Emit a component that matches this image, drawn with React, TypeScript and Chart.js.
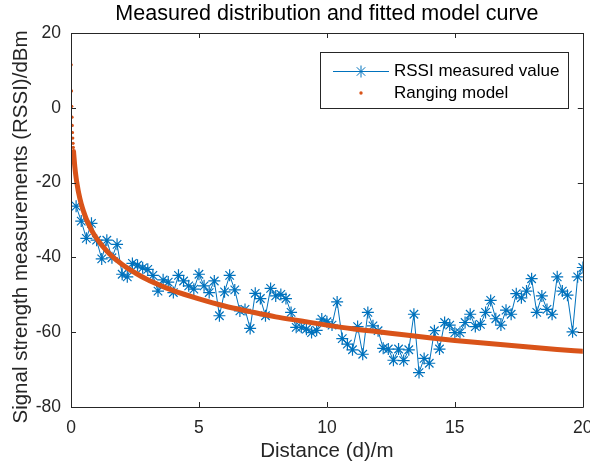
import React, { useEffect, useRef } from "react";
import { Chart, registerables } from "chart.js";

Chart.register(...registerables);

const BLUE = "#0072BD";
const ORANGE = "#D95319";
const AXIS = "#262626";
const FONT = "'Liberation Sans', Arial, sans-serif";

const titleText = "Measured distribution and fitted model curve";
const xLabel = "Distance (d)/m";
const yLabel = "Signal strength measurements (RSSI)/dBm";
const legendLabels = ["RSSI measured value", "Ranging model"];

const xTicks = [0, 5, 10, 15, 20];
const yTicks = [-80, -60, -40, -20, 0, 20];

const measuredDistances = [
  0.2, 0.4, 0.6, 0.8, 1.0, 1.2, 1.4, 1.6, 1.8, 2.0,
  2.2, 2.4, 2.6, 2.8, 3.0, 3.2, 3.4, 3.6, 3.8, 4.0,
  4.2, 4.4, 4.6, 4.8, 5.0, 5.2, 5.4, 5.6, 5.8, 6.0,
  6.2, 6.4, 6.6, 6.8, 7.0, 7.2, 7.4, 7.6, 7.8, 8.0,
  8.2, 8.4, 8.6, 8.8, 9.0, 9.2, 9.4, 9.6, 9.8, 10.0,
  10.2, 10.4, 10.6, 10.8, 11.0, 11.2, 11.4, 11.6, 11.8, 12.0,
  12.2, 12.4, 12.6, 12.8, 13.0, 13.2, 13.4, 13.6, 13.8, 14.0,
  14.2, 14.4, 14.6, 14.8, 15.0, 15.2, 15.4, 15.6, 15.8, 16.0,
  16.2, 16.4, 16.6, 16.8, 17.0, 17.2, 17.4, 17.6, 17.8, 18.0,
  18.2, 18.4, 18.6, 18.8, 19.0, 19.2, 19.4, 19.6, 19.8, 20.0,
];

const rssiMeasured = [
  -26.3, -30.3, -34.9, -30.9, -35.4, -40.4, -35.4, -40.1, -36.5, -44.5,
  -45.2, -41.6, -42.1, -42.8, -43.2, -44.8, -49.0, -46.0, -46.6, -49.4,
  -44.8, -46.3, -47.6, -48.5, -44.5, -47.6, -49.4, -46.3, -55.6, -49.2,
  -44.8, -48.7, -54.3, -53.9, -59.0, -49.6, -51.0, -55.6, -48.3, -50.3,
  -49.9, -51.0, -54.7, -58.7, -58.7, -59.2, -60.1, -59.5, -56.5, -57.2,
  -58.1, -51.9, -61.7, -63.2, -64.7, -58.5, -65.9, -54.7, -58.3, -59.6,
  -64.3, -64.5, -67.5, -64.5, -67.6, -64.7, -55.2, -70.8, -67.0, -68.3,
  -59.6, -64.5, -57.4, -58.1, -60.1, -60.1, -57.4, -55.2, -58.5, -57.9,
  -54.7, -51.5, -56.4, -58.1, -54.1, -55.2, -49.7, -50.8, -49.0, -45.7,
  -54.7, -50.3, -53.9, -55.2, -45.2, -49.0, -50.1, -59.9, -45.2, -42.7,
];

// Sparse dots at the steep start of the ranging model
const modelDotDistances = [0.01, 0.02, 0.03, 0.04, 0.05, 0.06, 0.07, 0.08, 0.09, 0.1];
const modelDotValues = [11.5, 4.5, 0.4, -2.5, -4.7, -6.6, -8.1, -9.5, -10.6, -11.7];

// Dense part of the ranging model (dots merge into a thick band)
const modelDistances = [
  0.1, 0.12, 0.15, 0.2, 0.25, 0.3, 0.4, 0.5, 0.6, 0.7, 0.8, 1.0, 1.2, 1.5,
  2.0, 2.5, 3.0, 3.5, 4.0, 5.0, 6.0, 7.0, 8.0, 9.0, 10, 11, 12, 13, 14, 15,
  16, 17, 18, 19, 20,
];
const modelValues = [
  -11.7, -13.5, -15.8, -18.7, -20.9, -22.8, -25.7, -27.9, -29.8, -31.3, -32.7, -34.9, -36.7, -39.0,
  -41.9, -44.1, -46.0, -47.5, -48.9, -51.1, -53.0, -54.5, -55.9, -57.0, -58.1, -59.1, -59.9, -60.7, -61.5, -62.2,
  -62.8, -63.4, -64.0, -64.6, -65.1,
];

function drawStar(ctx: CanvasRenderingContext2D, x: number, y: number, r: number) {
  const d = r * Math.SQRT1_2;
  ctx.beginPath();
  ctx.moveTo(x - r, y);
  ctx.lineTo(x + r, y);
  ctx.moveTo(x, y - r);
  ctx.lineTo(x, y + r);
  ctx.moveTo(x - d, y - d);
  ctx.lineTo(x + d, y + d);
  ctx.moveTo(x - d, y + d);
  ctx.lineTo(x + d, y - d);
  ctx.stroke();
}

const framePlugin = {
  id: "matlabFrame",
  afterDatasetsDraw(chart: any) {
    const { ctx, chartArea, scales } = chart;
    const { left, right, top, bottom } = chartArea;
    const cx = (left + right) / 2;
    const cy = (top + bottom) / 2;
    const tl = 5;
    ctx.save();
    ctx.strokeStyle = AXIS;
    ctx.lineWidth = 1;
    ctx.beginPath();
    ctx.rect(Math.round(left) + 0.5, Math.round(top) + 0.5, Math.round(right - left), Math.round(bottom - top));
    ctx.stroke();
    ctx.beginPath();
    xTicks.forEach((v) => {
      const px = Math.round(scales.x.getPixelForValue(v)) + 0.5;
      ctx.moveTo(px, bottom);
      ctx.lineTo(px, bottom - tl);
      ctx.moveTo(px, top);
      ctx.lineTo(px, top + tl);
    });
    yTicks.forEach((v) => {
      const py = Math.round(scales.y.getPixelForValue(v)) + 0.5;
      ctx.moveTo(left, py);
      ctx.lineTo(left + tl, py);
      ctx.moveTo(right, py);
      ctx.lineTo(right - tl, py);
    });
    ctx.stroke();

    // Title and axis labels
    ctx.textAlign = "center";
    ctx.textBaseline = "middle";
    ctx.fillStyle = "#000000";
    ctx.font = `21.5px ${FONT}`;
    ctx.fillText(titleText, cx, 14);
    ctx.fillStyle = AXIS;
    ctx.font = `20.5px ${FONT}`;
    ctx.fillText(xLabel, cx, 451);
    ctx.save();
    ctx.translate(21, cy + 7);
    ctx.rotate(-Math.PI / 2);
    ctx.fillText(yLabel, 0, 0);
    ctx.restore();

    // Legend box inside the axes (upper right)
    const bx = 320.5, by = 52.5, bw = 248, bh = 56;
    ctx.fillStyle = "#ffffff";
    ctx.fillRect(bx, by, bw, bh);
    ctx.strokeStyle = AXIS;
    ctx.strokeRect(bx, by, bw, bh);
    const row1 = 71, row2 = 93;
    ctx.strokeStyle = BLUE;
    ctx.lineWidth = 1;
    ctx.beginPath();
    ctx.moveTo(333, row1 + 0.5);
    ctx.lineTo(389, row1 + 0.5);
    ctx.stroke();
    drawStar(ctx, 361, row1 + 0.5, 6);
    ctx.fillStyle = ORANGE;
    ctx.beginPath();
    ctx.arc(361, row2, 1.7, 0, Math.PI * 2);
    ctx.fill();
    ctx.fillStyle = "#000000";
    ctx.font = `17px ${FONT}`;
    ctx.textAlign = "left";
    ctx.textBaseline = "middle";
    ctx.fillText(legendLabels[0], 394, row1);
    ctx.fillText(legendLabels[1], 394, row2);
    ctx.restore();
  },
};

export default function App() {
  const ref = useRef<HTMLCanvasElement | null>(null);

  useEffect(() => {
    if (!ref.current) return;
    const chart = new Chart(ref.current, {
      type: "scatter",
      data: {
        datasets: [
          {
            label: legendLabels[1],
            data: modelDotDistances.map((d, i) => ({ x: d, y: modelDotValues[i] })),
            showLine: false,
            pointRadius: 1.6,
            pointBorderWidth: 0,
            pointBackgroundColor: ORANGE,
            pointBorderColor: ORANGE,
          },
          {
            label: legendLabels[1] + " band",
            data: modelDistances.map((d, i) => ({ x: d, y: modelValues[i] })),
            showLine: true,
            borderColor: ORANGE,
            borderWidth: 5,
            pointRadius: 0,
            cubicInterpolationMode: "monotone",
            borderCapStyle: "round",
          },
          {
            label: legendLabels[0],
            data: measuredDistances.map((d, i) => ({ x: d, y: rssiMeasured[i] })),
            showLine: true,
            borderColor: BLUE,
            borderWidth: 1,
            pointStyle: "star",
            pointRadius: 6,
            pointBorderWidth: 1.2,
            pointBorderColor: BLUE,
            pointBackgroundColor: BLUE,
            tension: 0,
          },
        ],
      } as any,
      options: {
        responsive: false,
        animation: false,
        layout: { padding: { left: 0, right: 7, top: 33, bottom: 0 } },
        plugins: {
          legend: { display: false },
          tooltip: { enabled: false },
          title: { display: false },
        },
        scales: {
          x: {
            type: "linear",
            min: 0,
            max: 20,
            afterBuildTicks: (s: any) => {
              s.ticks = xTicks.map((v) => ({ value: v }));
            },
            ticks: {
              color: AXIS,
              font: { family: FONT, size: 17.5 },
              padding: 11,
              maxRotation: 0,
            },
            grid: { display: false, drawTicks: false },
            border: { display: false },
            title: { display: false },
            afterFit: (s: any) => {
              s.height = 64;
              s.paddingLeft = 0;
              s.paddingRight = 0;
            },
          },
          y: {
            type: "linear",
            min: -80,
            max: 20,
            afterBuildTicks: (s: any) => {
              s.ticks = yTicks.map((v) => ({ value: v }));
            },
            ticks: {
              color: AXIS,
              font: { family: FONT, size: 17.5 },
              padding: 10,
            },
            grid: { display: false, drawTicks: false },
            border: { display: false },
            title: { display: false },
            afterFit: (s: any) => {
              s.width = 71;
              s.paddingTop = 0;
              s.paddingBottom = 0;
            },
          },
        },
      } as any,
      plugins: [framePlugin],
    });
    return () => chart.destroy();
  }, []);

  return (
    <div style={{ position: "fixed", left: 0, top: 0, width: 590, height: 471, background: "#ffffff" }}>
      <canvas ref={ref} width={590} height={471} style={{ display: "block" }} />
    </div>
  );
}
